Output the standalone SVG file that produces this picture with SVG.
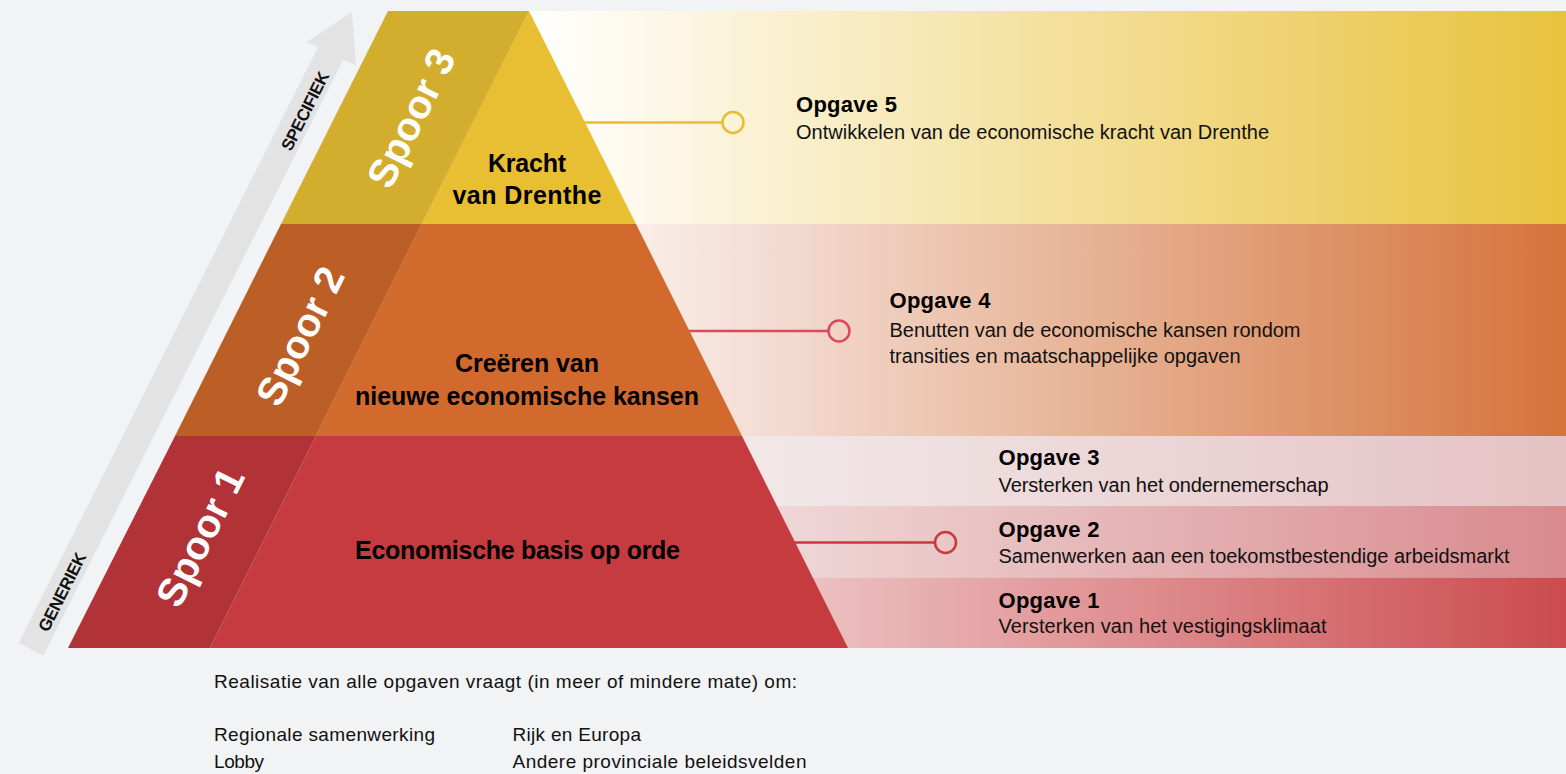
<svg xmlns="http://www.w3.org/2000/svg" width="1566" height="774" viewBox="0 0 1566 774">
<defs>
<linearGradient id="gY" gradientUnits="userSpaceOnUse" x1="530" y1="0" x2="1566" y2="0"><stop offset="0" stop-color="#FFFFFF"/><stop offset="1" stop-color="#E9C23D"/></linearGradient>
<linearGradient id="gO" gradientUnits="userSpaceOnUse" x1="636" y1="0" x2="1566" y2="0"><stop offset="0" stop-color="#F9EEE8"/><stop offset="0.155" stop-color="#F3DAD0"/><stop offset="0.496" stop-color="#E6B294"/><stop offset="1" stop-color="#D5733A"/></linearGradient>
<linearGradient id="g3" gradientUnits="userSpaceOnUse" x1="742" y1="0" x2="1566" y2="0"><stop offset="0" stop-color="#F2E8E8"/><stop offset="1" stop-color="#E5C2C4"/></linearGradient>
<linearGradient id="g2" gradientUnits="userSpaceOnUse" x1="742" y1="0" x2="1566" y2="0"><stop offset="0" stop-color="#F0DADA"/><stop offset="1" stop-color="#D98A8D"/></linearGradient>
<linearGradient id="g1" gradientUnits="userSpaceOnUse" x1="742" y1="0" x2="1566" y2="0"><stop offset="0" stop-color="#F0CBCB"/><stop offset="1" stop-color="#CB4B4F"/></linearGradient>
</defs>
<style>
text{font-family:"Liberation Sans",Arial,sans-serif}
.h{font-size:22px;font-weight:700;fill:#000}
.d{font-size:20px;fill:#111}
.f{font-size:19px;fill:#111}
.c{font-size:25px;font-weight:700;fill:#000;text-anchor:middle}
.s{font-size:40px;font-weight:700;fill:#fff;text-anchor:middle}
.a{font-size:17px;font-weight:700;fill:#111;text-anchor:middle}
.ln{stroke-width:2.5;fill:none}
</style>
<rect x="0" y="0" width="1566" height="774" fill="#F2F3F5"/>

<g id="axis-arrow">
<polygon points="18.7,643 318,47 307,42 352,12 356,65 343,60 43.5,655.4" fill="#E3E3E4"/>
<text class="a" transform="translate(305,111) rotate(-63.3)" y="6" textLength="86">SPECIFIEK</text>
<text class="a" transform="translate(62,592) rotate(-63.3)" y="6" textLength="86">GENERIEK</text>
</g>

<g id="bands">
<rect x="500" y="11" width="1066" height="213" fill="url(#gY)"/>
<rect x="600" y="224" width="966" height="212" fill="url(#gO)"/>
<rect x="700" y="436" width="866" height="70" fill="url(#g3)"/>
<rect x="700" y="506" width="866" height="71.5" fill="url(#g2)"/>
<rect x="700" y="577.5" width="866" height="70.5" fill="url(#g1)"/>
</g>

<g id="spoor3">
<polygon points="529,11 636,224 422,224" fill="#E8BE33"/>
<polygon points="388,11 529,11 422,224 281,224" fill="#D3AE2E"/>
<text class="s" transform="translate(411,118) rotate(-63.5)" y="14">Spoor 3</text>
<text class="c" x="527" y="172" textLength="78">Kracht</text>
<text class="c" x="527" y="204" textLength="149">van Drenthe</text>
</g>

<g id="spoor2">
<polygon points="422,224 636,224 742,436 316,436" fill="#D2692D"/>
<polygon points="281,224 422,224 316,436 175,436" fill="#BC5F27"/>
<text class="s" transform="translate(300,336) rotate(-63.5)" y="14">Spoor 2</text>
<text class="c" x="527" y="372" textLength="144">Creëren van</text>
<text class="c" x="527" y="405" textLength="344">nieuwe economische kansen</text>
</g>

<g id="spoor1">
<polygon points="316,436 742,436 848,648 210,648" fill="#C63B40"/>
<polygon points="175,436 316,436 210,648 68,648" fill="#B13337"/>
<text class="s" transform="translate(200,537) rotate(-63.5)" y="14">Spoor 1</text>
<text class="c" x="517.5" y="559" textLength="325">Economische basis op orde</text>
</g>

<g id="connectors">
<line class="ln" x1="584" y1="122.5" x2="722.5" y2="122.5" stroke="#E8BD32"/>
<circle class="ln" cx="733" cy="122.5" r="10.5" stroke="#E8BD32"/>
<line class="ln" x1="689" y1="331" x2="828.5" y2="331" stroke="#D94A5C"/>
<circle class="ln" cx="839" cy="331" r="10.5" stroke="#D94A5C"/>
<line class="ln" x1="794" y1="542.5" x2="935" y2="542.5" stroke="#C9393F"/>
<circle class="ln" cx="945.5" cy="542.5" r="10.5" stroke="#C9393F"/>
</g>

<g id="opgave5">
<text class="h" x="796" y="112" textLength="101">Opgave 5</text>
<text class="d" x="796" y="138.5" textLength="473">Ontwikkelen van de economische kracht van Drenthe</text>
</g>
<g id="opgave4">
<text class="h" x="889.5" y="308" textLength="101">Opgave 4</text>
<text class="d" x="889.5" y="336.5" textLength="411">Benutten van de economische kansen rondom</text>
<text class="d" x="889.5" y="363" textLength="351">transities en maatschappelijke opgaven</text>
</g>
<g id="opgave3">
<text class="h" x="998.5" y="465" textLength="101">Opgave 3</text>
<text class="d" x="998.5" y="491.5" textLength="330">Versterken van het ondernemerschap</text>
</g>
<g id="opgave2">
<text class="h" x="998.5" y="536.5" textLength="101">Opgave 2</text>
<text class="d" x="998.5" y="563" textLength="511">Samenwerken aan een toekomstbestendige arbeidsmarkt</text>
</g>
<g id="opgave1">
<text class="h" x="998.5" y="608" textLength="101">Opgave 1</text>
<text class="d" x="998.5" y="633" textLength="328">Versterken van het vestigingsklimaat</text>
</g>

<g id="footer">
<text class="f" x="214" y="688.3" textLength="583">Realisatie van alle opgaven vraagt (in meer of mindere mate) om:</text>
<text class="f" x="214" y="740.7" textLength="221">Regionale samenwerking</text>
<text class="f" x="214" y="768" textLength="50">Lobby</text>
<text class="f" x="512.5" y="740.7" textLength="128.5">Rijk en Europa</text>
<text class="f" x="512.5" y="768" textLength="294">Andere provinciale beleidsvelden</text>
</g>
</svg>
